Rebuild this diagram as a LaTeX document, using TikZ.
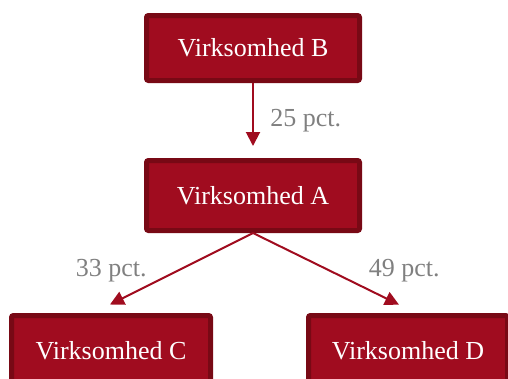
\documentclass[tikz,border=0pt]{standalone}
\usepackage{fontspec}
\setmainfont{Liberation Serif}
\usetikzlibrary{arrows.meta, positioning, calc}
\definecolor{firmred}{HTML}{A00C1F}
\definecolor{firmdark}{HTML}{780915}
\definecolor{pctgray}{HTML}{808080}

\begin{document}
\begin{tikzpicture}[
  x=1pt, y=-1pt,
  firm/.style={rectangle, draw=firmdark, fill=firmred, line width=5pt, rounded corners=2pt, minimum width=213pt, minimum height=70pt, text=white, font=\fontsize{26}{30}\selectfont},
  pct/.style={font=\fontsize{26}{30}\selectfont, text=pctgray},
  arrow/.style={-{Triangle[length=14pt, width=14pt]}, draw=firmred, line width=2pt}
]
  \useasboundingbox (0,0) rectangle (508,378);

  % Companies
  \node[firm, minimum height=65pt] (b) at (253, 48) {Virksomhed B};
  \node[firm] (a) at (253, 195.5) {Virksomhed A};
  \node[firm, minimum width=199pt] (c) at (111, 350.5) {Virksomhed C};
  \node[firm, minimum width=199pt] (d) at (408, 350.5) {Virksomhed D};

  % Ownership
  \draw[arrow, shorten >=12pt] (b.south) -- node[pct, right=13pt] {25 pct.} (a.north);
  \draw[arrow, shorten >=19pt] (a.south) -- node[pct, left=22pt, yshift=2pt] {33 pct.} ($(c.north)+(-18,0)$);
  \draw[arrow, shorten >=19pt] (a.south) -- node[pct, right=30pt, yshift=2pt] {49 pct.} ($(d.north)+(8,0)$);
\end{tikzpicture}
\end{document}
